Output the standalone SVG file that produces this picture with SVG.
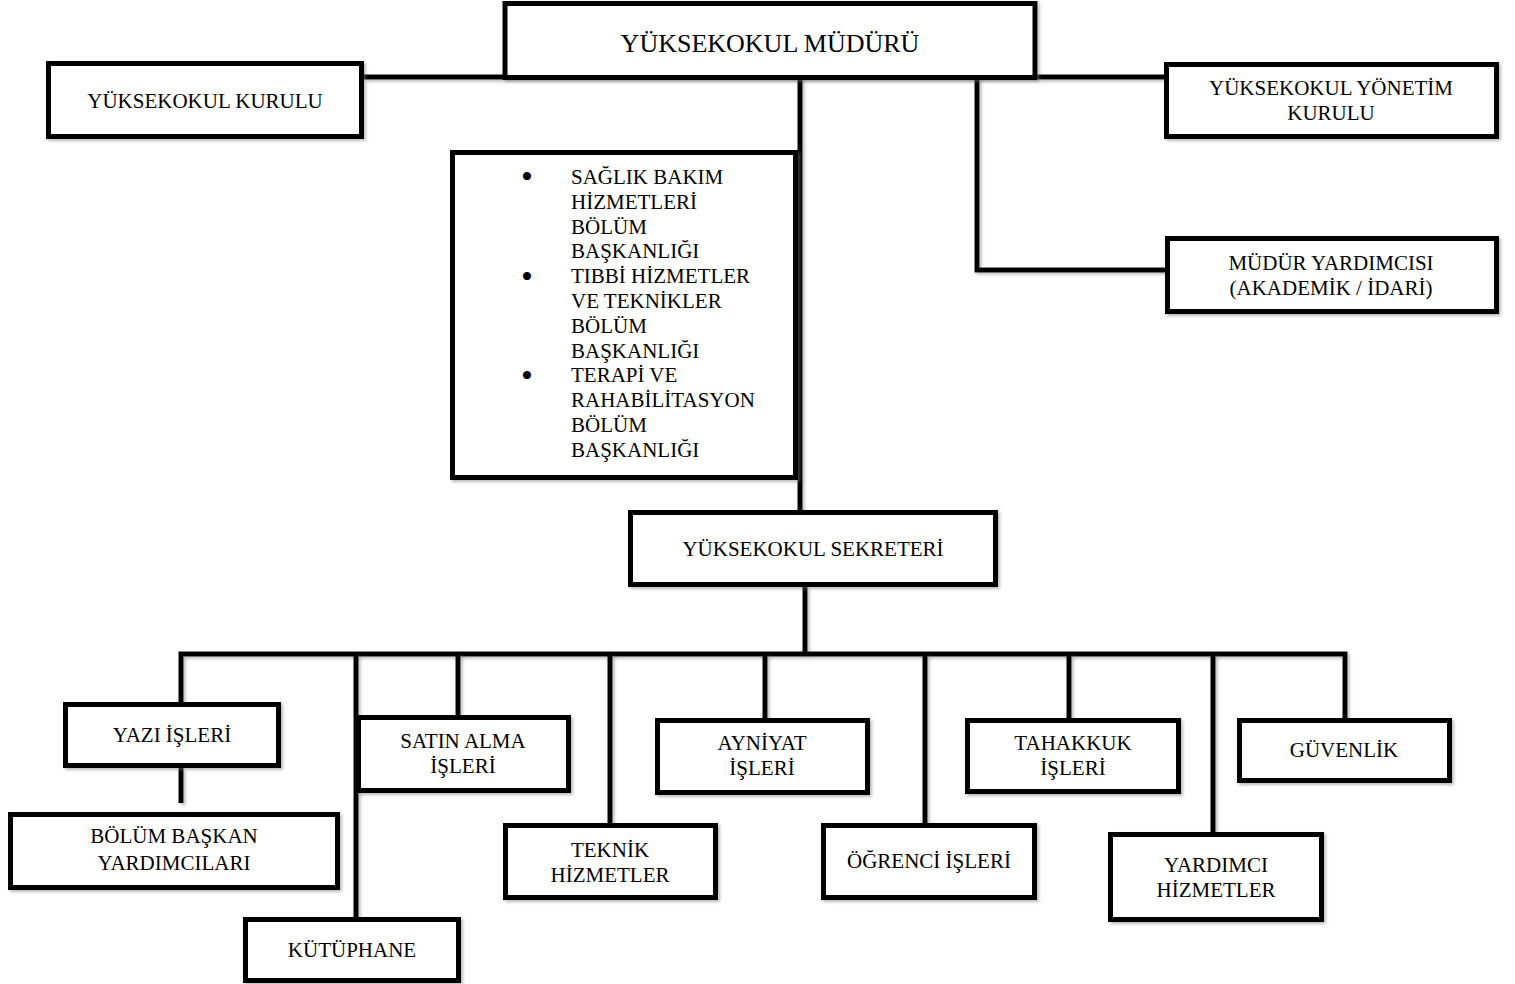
<svg xmlns="http://www.w3.org/2000/svg" width="1515" height="984" viewBox="0 0 1515 984">
<defs>
<filter id="sh" filterUnits="userSpaceOnUse" x="0" y="0" width="1515" height="984">
<feDropShadow dx="2" dy="2" stdDeviation="1.5" flood-color="#777" flood-opacity="0.5"/>
</filter>
<style>
.box{fill:#fff;stroke:#000;stroke-width:5;filter:url(#sh)}
.ln{fill:none;stroke:#000;stroke-width:5;stroke-linecap:butt;stroke-linejoin:miter;filter:url(#sh)}
text{font-family:"Liberation Serif","Times New Roman",serif;font-size:21px;fill:#000;text-anchor:middle}
.big{font-size:26px}
.l{text-anchor:start}
.bul{font-size:34px}
</style>
</defs>
<rect width="1515" height="984" fill="#fff"/>
<g id="connectors">
<path class="ln" d="M364 77 H1165"/>
<path class="ln" d="M977 77 V270 H1166"/>
<path class="ln" d="M800 77 V513"/>
<path class="ln" d="M805 587 V654"/>
<path class="ln" d="M181 702 V654 H1345 V718"/>
<path class="ln" d="M356 654 V918"/>
<path class="ln" d="M458 654 V716"/>
<path class="ln" d="M610 654 V824"/>
<path class="ln" d="M765 654 V719"/>
<path class="ln" d="M925 654 V824"/>
<path class="ln" d="M1069 654 V719"/>
<path class="ln" d="M1213 654 V833"/>
<path class="ln" d="M181 768 V803"/>
</g>
<g id="mudur">
<rect class="box" x="505" y="3.5" width="530" height="74"/>
<text class="big" x="770" y="52">YÜKSEKOKUL MÜDÜRÜ</text>
</g>
<g id="kurul">
<rect class="box" x="48.5" y="63.5" width="313" height="73"/>
<text x="205" y="108">YÜKSEKOKUL KURULU</text>
</g>
<g id="yonetim">
<rect class="box" x="1166.5" y="64.5" width="330" height="72"/>
<text x="1331" y="95">YÜKSEKOKUL YÖNETİM</text>
<text x="1331" y="120">KURULU</text>
</g>
<g id="yardimci-mudur">
<rect class="box" x="1167.5" y="238.5" width="329" height="73"/>
<text x="1331" y="270">MÜDÜR YARDIMCISI</text>
<text x="1331" y="295">(AKADEMİK / İDARİ)</text>
</g>
<g id="bolumler">
<rect class="box" x="452.5" y="152.5" width="343" height="325"/>
<text class="bul" x="527" y="188">•</text>
<text class="bul" x="527" y="288">•</text>
<text class="bul" x="527" y="387">•</text>
<text class="l" x="571" y="184">SAĞLIK BAKIM</text>
<text class="l" x="571" y="208.8">HİZMETLERİ</text>
<text class="l" x="571" y="233.6">BÖLÜM</text>
<text class="l" x="571" y="258.4">BAŞKANLIĞI</text>
<text class="l" x="571" y="283.2">TIBBİ HİZMETLER</text>
<text class="l" x="571" y="308">VE TEKNİKLER</text>
<text class="l" x="571" y="332.8">BÖLÜM</text>
<text class="l" x="571" y="357.6">BAŞKANLIĞI</text>
<text class="l" x="571" y="382.4">TERAPİ VE</text>
<text class="l" x="571" y="407.2">RAHABİLİTASYON</text>
<text class="l" x="571" y="432">BÖLÜM</text>
<text class="l" x="571" y="456.8">BAŞKANLIĞI</text>
</g>
<g id="sekreter">
<rect class="box" x="630.5" y="512.5" width="365" height="72"/>
<text x="813" y="556">YÜKSEKOKUL SEKRETERİ</text>
</g>
<g id="yazi">
<rect class="box" x="65.5" y="704.5" width="213" height="61"/>
<text x="172" y="742">YAZI İŞLERİ</text>
</g>
<g id="bby">
<rect class="box" x="10.5" y="814.5" width="327" height="73"/>
<text x="174" y="843">BÖLÜM BAŞKAN</text>
<text x="174" y="870">YARDIMCILARI</text>
</g>
<g id="satin">
<rect class="box" x="358.5" y="717.5" width="210" height="73"/>
<text x="463" y="748">SATIN ALMA</text>
<text x="463" y="773">İŞLERİ</text>
</g>
<g id="kutuphane">
<rect class="box" x="245.5" y="919.5" width="213" height="61"/>
<text x="352" y="957">KÜTÜPHANE</text>
</g>
<g id="teknik">
<rect class="box" x="505.5" y="825.5" width="210" height="72"/>
<text x="610" y="857">TEKNİK</text>
<text x="610" y="882">HİZMETLER</text>
</g>
<g id="ayniyat">
<rect class="box" x="657.5" y="720.5" width="210" height="72"/>
<text x="762" y="750">AYNİYAT</text>
<text x="762" y="775">İŞLERİ</text>
</g>
<g id="ogrenci">
<rect class="box" x="823.5" y="825.5" width="211" height="72"/>
<text x="929" y="868">ÖĞRENCİ İŞLERİ</text>
</g>
<g id="tahakkuk">
<rect class="box" x="967.5" y="720.5" width="211" height="71"/>
<text x="1073" y="750">TAHAKKUK</text>
<text x="1073" y="775">İŞLERİ</text>
</g>
<g id="yardimci-hizmetler">
<rect class="box" x="1110.5" y="834.5" width="211" height="85"/>
<text x="1216" y="872">YARDIMCI</text>
<text x="1216" y="897">HİZMETLER</text>
</g>
<g id="guvenlik">
<rect class="box" x="1239.5" y="720.5" width="210" height="60"/>
<text x="1344" y="757">GÜVENLİK</text>
</g>
</svg>
